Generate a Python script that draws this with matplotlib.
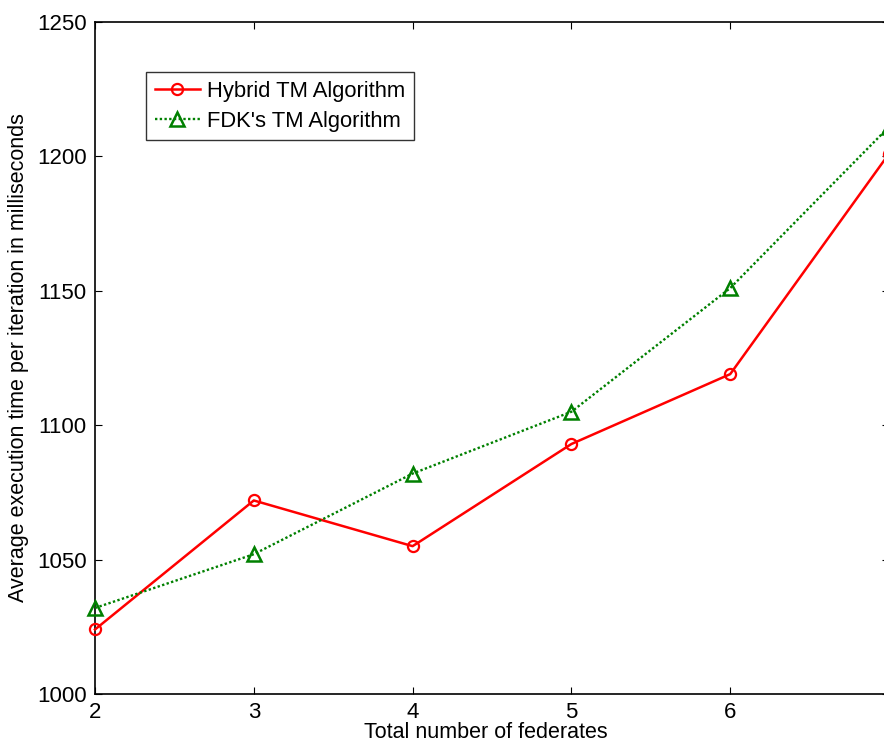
import matplotlib
matplotlib.use("Agg")
import matplotlib.pyplot as plt

plt.rcParams['font.family'] = ['Liberation Sans', 'DejaVu Sans']

federates = [2, 3, 4, 5, 6, 7]
hybrid_ms = [1024, 1072, 1055, 1093, 1119, 1201]
fdk_ms = [1032, 1052, 1082, 1105, 1151, 1211]
x_ticks = [2, 3, 4, 5, 6]
y_ticks = [1000, 1050, 1100, 1150, 1200, 1250]

W, H = 884, 745
fig = plt.figure(figsize=(W / 100, H / 100), dpi=100)
left, right, bottom, top = 95, 889, 51, 723
ax = fig.add_axes([left / W, bottom / H, (right - left) / W, (top - bottom) / H])

ax.plot(federates, hybrid_ms, color='#ff0000', linestyle='-', linewidth=1.8,
        marker='o', markersize=8, markerfacecolor='none', markeredgewidth=1.6,
        label='Hybrid TM Algorithm', clip_on=False, zorder=3)
ax.plot(federates, fdk_ms, color='#008000', linestyle=(0, (1, 1)), linewidth=1.7,
        marker='^', markersize=10, markerfacecolor='none', markeredgewidth=1.8,
        label="FDK's TM Algorithm", clip_on=False, zorder=3)

ax.set_xlim(2, 7)
ax.set_ylim(1000, 1250)
ax.set_xticks(x_ticks)
ax.set_yticks(y_ticks)
ax.tick_params(direction='in', length=5, width=0.8, labelsize=16,
               top=True, right=True, pad=6)
for s in ax.spines.values():
    s.set_linewidth(1.2)

ax.set_ylabel('Average execution time per iteration in milliseconds', fontsize=15.5, labelpad=6)
fig.text(486 / W, 1 - 733 / H, 'Total number of federates', fontsize=15.5,
         ha='center', va='center')

leg = ax.legend(loc='upper left',
                bbox_to_anchor=((146 - left) / (right - left), (H - 72 - bottom) / (top - bottom)),
                fontsize=15.8, frameon=True, fancybox=False, edgecolor='black',
                handlelength=2.05, handletextpad=0.32, borderpad=0.4, labelspacing=0.4,
                borderaxespad=0)
leg.get_frame().set_linewidth(1.0)

fig.savefig('out.png', dpi=100)
